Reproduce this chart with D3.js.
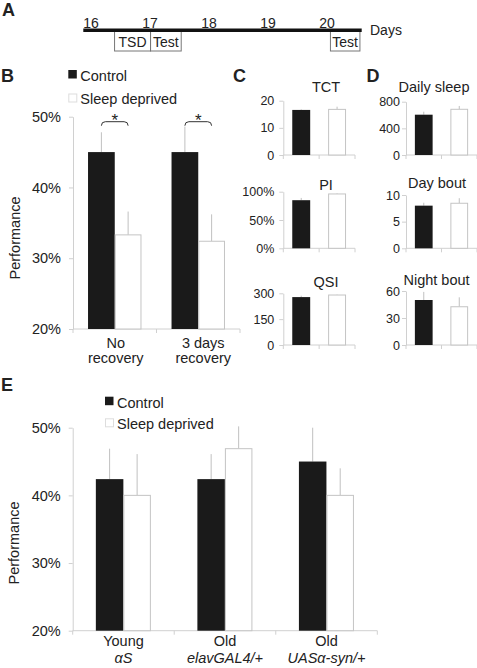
<!DOCTYPE html>
<html><head><meta charset="utf-8">
<script src="https://cdn.jsdelivr.net/npm/d3@7"></script>
<style>
body{margin:0;background:#fff;}
svg text{font-family:"Liberation Sans",Arial,sans-serif;fill:#222;}
</style></head><body>
<svg id="c" width="477" height="668"></svg>
<script>
// ---------------- DATA ----------------
const timelineDays = [16, 17, 18, 19, 20];
const timelineEvents = ["TSD", "Test", "Test"];
const timelineStart = [16.53, 17.14, 20.19];
const timelineEnd = [17.14, 17.66, 20.69];

const seriesNames = ["Control", "Sleep deprived"];

const bCategories = [["No", "recovery"], ["3 days", "recovery"]];
const bControl = [45.0, 45.0];
const bControlErr = [2.8, 3.6];
const bDeprived = [33.3, 32.4];
const bDeprivedErr = [3.3, 3.8];
const bSignificance = ["*", "*"];
const bTicks = [20, 30, 40, 50];

const cMetrics = ["TCT", "PI", "QSI"];
const cControl = [16.6, 0.85, 278];
const cControlErr = [0.2, 0.04, 8];
const cDeprived = [16.8, 0.96, 290];
const cDeprivedErr = [1.0, 0.01, 2];
const cTicks = [[0, 10, 20], [0, 0.5, 1], [0, 150, 300]];

const dMetrics = ["Daily sleep", "Day bout", "Night bout"];
const dControl = [605, 8.0, 50];
const dControlErr = [45, 0.55, 9];
const dDeprived = [686, 8.45, 42.5];
const dDeprivedErr = [50, 0.95, 10.5];
const dTicks = [[0, 400, 800], [0, 5, 10], [0, 30, 60]];

const eCategories = [["Young", "αS"], ["Old", "elavGAL4/+"], ["Old", "UASα-syn/+"]];
const eControl = [42.4, 42.4, 45.0];
const eControlErr = [4.5, 3.7, 5.0];
const eDeprived = [40.0, 46.9, 40.0];
const eDeprivedErr = [6.1, 3.3, 4.0];
const eTicks = [20, 30, 40, 50];

// ---------------- DRAWING ----------------
const svg = d3.select("#c");
const AX = "#d0d0d0", BLACK = "#1a1a1a", WSTROKE = "#c4c4c4", ERR = "#c0c0c0", FONT = "'Liberation Sans', Arial, sans-serif";

function styleAxis(sel, fs) {
  sel.attr("font-family", FONT).attr("font-size", fs);
  sel.select(".domain").attr("stroke", AX);
  sel.selectAll(".tick line").attr("stroke", AX);
  sel.selectAll(".tick text").attr("fill", "#222");
}

function letter(t, x, y) {
  svg.append("text").attr("x", x).attr("y", y).attr("font-size", 18).attr("font-weight", "bold").attr("fill", "#111").text(t);
}

// Panel A: timeline
letter("A", 2, 16);
const xDay = d3.scaleLinear().domain([16, 20.72]).range([83.3, 361.7]);
const gA = svg.append("g");
gA.selectAll("rect.ev").data(timelineEvents).enter().append("rect")
  .attr("x", (d, i) => xDay(timelineStart[i])).attr("y", 30)
  .attr("width", (d, i) => xDay(timelineEnd[i]) - xDay(timelineStart[i])).attr("height", 21)
  .attr("fill", "none").attr("stroke", "#777").attr("stroke-width", 1);
gA.selectAll("text.ev").data(timelineEvents).enter().append("text")
  .attr("x", (d, i) => (xDay(timelineStart[i]) + xDay(timelineEnd[i])) / 2).attr("y", 46.5)
  .attr("text-anchor", "middle").attr("font-size", 14).text(d => d);
gA.append("line").attr("x1", xDay(16)).attr("x2", xDay(20.72)).attr("y1", 30.3).attr("y2", 30.3)
  .attr("stroke", "#111").attr("stroke-width", 3.5);
gA.selectAll("text.day").data(timelineDays).enter().append("text")
  .attr("x", d => xDay(d)).attr("y", 27.5).attr("font-size", 14).text(d => d);
gA.append("text").attr("x", 370).attr("y", 34.5).attr("font-size", 14).text("Days");

// Grouped bar panels (B, E)
function legend(x, y1, y2) {
  svg.append("rect").attr("x", x).attr("y", y1).attr("width", 8.5).attr("height", 8.5).attr("fill", BLACK);
  svg.append("rect").attr("x", x + 0.5).attr("y", y2 + 0.5).attr("width", 8).attr("height", 8).attr("fill", "#fff").attr("stroke", "#ddd");
  svg.append("text").attr("x", x + 12).attr("y", y1 + 11).attr("font-size", 14.5).text(seriesNames[0]);
  svg.append("text").attr("x", x + 12).attr("y", y2 + 10.5).attr("font-size", 14.5).text(seriesNames[1]);
}

function groupedPanel(cfg) {
  const g = svg.append("g");
  const x = d3.scaleBand().domain(d3.range(cfg.cats.length)).range(cfg.xr);
  const sub = d3.scaleBand().domain([0, 1]).range([x.bandwidth() * cfg.inner[0], x.bandwidth() * cfg.inner[1]]);
  const y = d3.scaleLinear().domain(cfg.domain).range(cfg.yr);
  const ya = g.append("g").attr("transform", `translate(${cfg.xr[0]},0)`)
    .call(d3.axisLeft(y).tickValues(cfg.ticks).tickFormat(d => d + "%").tickSize(4).tickPadding(8).tickSizeOuter(0));
  styleAxis(ya, 14.5);
  const y0 = y(cfg.domain[0]);
  g.append("line").attr("x1", cfg.xr[0]).attr("x2", cfg.xr[1]).attr("y1", y0).attr("y2", y0).attr("stroke", AX);
  const bounds = x.domain().map(i => x(i)).concat([cfg.xr[1]]);
  g.selectAll("line.bt").data(bounds).enter().append("line")
    .attr("x1", d => d).attr("x2", d => d).attr("y1", y0).attr("y2", y0 + 4).attr("stroke", AX);
  const series = [
    { v: cfg.ctrl, e: cfg.ctrlErr, fill: BLACK, stroke: "none" },
    { v: cfg.dep, e: cfg.depErr, fill: "#fff", stroke: WSTROKE }
  ];
  series.forEach((s, si) => {
    g.selectAll(null).data(s.v).enter().append("line")
      .attr("x1", (d, i) => x(i) + sub(si) + sub.bandwidth() / 2)
      .attr("x2", (d, i) => x(i) + sub(si) + sub.bandwidth() / 2)
      .attr("y1", d => y(d)).attr("y2", (d, i) => y(d + s.e[i])).attr("stroke", ERR);
    g.selectAll(null).data(s.v).enter().append("rect")
      .attr("x", (d, i) => x(i) + sub(si) + (si ? 0.5 : 0)).attr("width", sub.bandwidth() - (si ? 1 : 0))
      .attr("y", d => y(d)).attr("height", d => y0 - y(d))
      .attr("fill", s.fill).attr("stroke", s.stroke);
  });
  // category labels
  cfg.cats.forEach((c, i) => {
    c.forEach((line, li) => {
      g.append("text").attr("x", x(i) + x.bandwidth() / 2 + (cfg.labelShift ? cfg.labelShift[i] : 0))
        .attr("y", y0 + cfg.labelY[li]).attr("text-anchor", "middle").attr("font-size", 14.5)
        .attr("font-style", (cfg.italic2 && li === 1) ? "italic" : null).text(line);
    });
  });
  // y title
  g.append("text").attr("transform", `translate(${cfg.titleX},${cfg.titleY}) rotate(-90)`)
    .attr("text-anchor", "middle").attr("font-size", 14.5).text("Performance");
  // significance
  if (cfg.sig) {
    const by = y(cfg.domain[1]) + 5;
    cfg.sig.forEach((s, i) => {
      if (!s) return;
      const xa = x(i) + sub(0) + sub.bandwidth() / 2, xb = x(i) + sub(1) + sub.bandwidth() / 2;
      g.append("path").attr("d", `M${xa},${by + 4} Q${xa},${by} ${xa + 4},${by} L${xb - 4},${by} Q${xb},${by} ${xb},${by + 4}`)
        .attr("fill", "none").attr("stroke", "#333").attr("stroke-width", 1);
      g.append("text").attr("x", (xa + xb) / 2).attr("y", by + 4.5).attr("text-anchor", "middle").attr("font-size", 17).text(s);
    });
  }
}

letter("B", 1, 82);
legend(68.3, 70, 93.5);
groupedPanel({
  cats: bCategories, ctrl: bControl, ctrlErr: bControlErr, dep: bDeprived, depErr: bDeprivedErr,
  xr: [73, 240], yr: [329, 116.7], domain: [20, 50], ticks: bTicks, inner: [0.18, 0.82],
  labelY: [19, 33.5], labelShift: [1, 5], titleX: 20, titleY: 238, sig: bSignificance
});

letter("E", 1, 391);
legend(105, 396.7, 418.3);
groupedPanel({
  cats: eCategories, ctrl: eControl, ctrlErr: eControlErr, dep: eDeprived, depErr: eDeprivedErr,
  xr: [72.7, 377.3], yr: [630.7, 427.7], domain: [20, 50], ticks: eTicks, inner: [0.228, 0.77],
  labelY: [15.5, 32], titleX: 18.5, titleY: 543, italic2: true
});

// Mini panels (C, D)
function miniPanel(cfg) {
  const g = svg.append("g");
  const x = d3.scaleBand().domain(seriesNames).range(cfg.xr);
  const y = d3.scaleLinear().domain([0, cfg.ticks[cfg.ticks.length - 1]]).range(cfg.yr);
  const ya = g.append("g").attr("transform", `translate(${cfg.xr[0]},0)`)
    .call(d3.axisLeft(y).tickValues(cfg.ticks).tickFormat(cfg.fmt || (d => d)).tickSize(4).tickPadding(cfg.pad).tickSizeOuter(0));
  styleAxis(ya, 12.5);
  const y0 = y(0);
  g.append("line").attr("x1", cfg.xr[0]).attr("x2", cfg.xr[1]).attr("y1", y0).attr("y2", y0).attr("stroke", AX);
  const bounds = x.domain().map(d => x(d)).concat([cfg.xr[1]]);
  g.selectAll("line.bt").data(bounds).enter().append("line")
    .attr("x1", d => d).attr("x2", d => d).attr("y1", y0).attr("y2", y0 + 4).attr("stroke", AX);
  const vals = [cfg.ctrl, cfg.dep], errs = [cfg.ctrlErr, cfg.depErr];
  seriesNames.forEach((s, si) => {
    const cx = x(s) + x.bandwidth() / 2, w = x.bandwidth() * 0.5;
    g.append("line").attr("x1", cx).attr("x2", cx).attr("y1", y(vals[si])).attr("y2", y(vals[si] + errs[si])).attr("stroke", ERR);
    g.append("rect").attr("x", cx - w / 2 + (si ? 0.5 : 0)).attr("width", w - (si ? 1 : 0))
      .attr("y", y(vals[si])).attr("height", y0 - y(vals[si]))
      .attr("fill", si ? "#fff" : BLACK).attr("stroke", si ? WSTROKE : "none");
  });
  g.append("text").attr("x", cfg.titleX).attr("y", cfg.titleY).attr("text-anchor", "middle").attr("font-size", 14.5).text(cfg.title);
}

letter("C", 233, 82);
letter("D", 366.5, 82);
const cRows = [[100.7, 155], [191.7, 248.3], [293.3, 345]];
const cTitleY = [91.5, 190, 286.5];
cMetrics.forEach((m, i) => miniPanel({
  title: m, ctrl: cControl[i], ctrlErr: cControlErr[i], dep: cDeprived[i], depErr: cDeprivedErr[i],
  ticks: cTicks[i], fmt: i === 1 ? d3.format(".0%") : null, xr: [283.3, 355], yr: [cRows[i][1], cRows[i][0]],
  pad: 5, titleX: 326, titleY: cTitleY[i]
}));
const dRows = [[101.7, 155], [195, 248.3], [291, 345]];
const dTitleY = [91.5, 188.3, 285];
const dTitleX = [434, 437, 436.5];
dMetrics.forEach((m, i) => miniPanel({
  title: m, ctrl: dControl[i], ctrlErr: dControlErr[i], dep: dDeprived[i], depErr: dDeprivedErr[i],
  ticks: dTicks[i], xr: [406, 477], yr: [dRows[i][1], dRows[i][0]],
  pad: 2, titleX: dTitleX[i], titleY: dTitleY[i]
}));
</script>
</body></html>
